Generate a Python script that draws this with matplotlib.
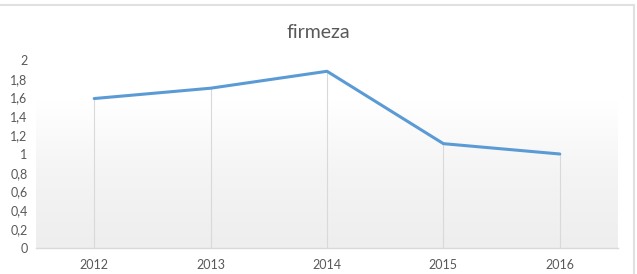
import numpy as np
import matplotlib.pyplot as plt
from matplotlib.colors import LinearSegmentedColormap
from matplotlib.patches import Rectangle

plt.rcParams['font.family'] = ['Lato', 'DejaVu Sans']

# datos
anios = ['2012', '2013', '2014', '2015', '2016']
firmeza = [1.59, 1.70, 1.88, 1.11, 1.00]
ticks_y = [0, 0.2, 0.4, 0.6, 0.8, 1, 1.2, 1.4, 1.6, 1.8, 2]
etiquetas_y = ['0', '0,2', '0,4', '0,6', '0,8', '1', '1,2', '1,4', '1,6', '1,8', '2']

gris_texto = '#595959'
gris_linea = '#d9d9d9'

fig = plt.figure(figsize=(6.37, 2.74), dpi=100)
ax = fig.add_axes([36 / 637, 1 - 248 / 274, (618 - 36) / 637, (248 - 60) / 274])

x = np.arange(len(anios))

# fondo degradado (blanco arriba, gris claro abajo)
cmap = LinearSegmentedColormap.from_list('fondo', ['#eeeeee', '#f4f4f4', '#ffffff'])
grad = np.linspace(0, 1, 256).reshape(-1, 1)
ax.imshow(grad, cmap=cmap, origin='lower', aspect='auto',
          extent=[-0.5, 4.5, 0, 1.56], zorder=0)

# lineas de caida
ax.vlines(x, 0, firmeza, color=gris_linea, linewidth=0.8, zorder=1)
ax.plot(x, firmeza, color='#5b9bd5', linewidth=2.2, solid_capstyle='round', zorder=3)

ax.set_xlim(-0.5, 4.5)
ax.set_ylim(0, 2)
ax.set_xticks(x)
ax.set_xticklabels(anios)
ax.set_yticks(ticks_y)
ax.set_yticklabels(etiquetas_y)
ax.tick_params(length=0, colors=gris_texto, labelsize=9)
ax.tick_params(axis='x', pad=8)
ax.tick_params(axis='y', pad=6)
for lado in ['top', 'right', 'left']:
    ax.spines[lado].set_visible(False)
ax.spines['bottom'].set_color(gris_linea)
ax.spines['bottom'].set_linewidth(1)
ax.set_facecolor('white')

fig.text(318 / 637, 1 - 32 / 274, 'firmeza', ha='center', va='center',
         fontsize=14, color=gris_texto)

# borde del grafico
fig.patches.append(Rectangle((-0.01, -0.05), 634 / 637 + 0.01, 1 - 5 / 274 + 0.05,
                             transform=fig.transFigure, fill=False,
                             edgecolor='#e0e0e0', linewidth=1.5, zorder=0))

fig.savefig('out.png', dpi=100)
